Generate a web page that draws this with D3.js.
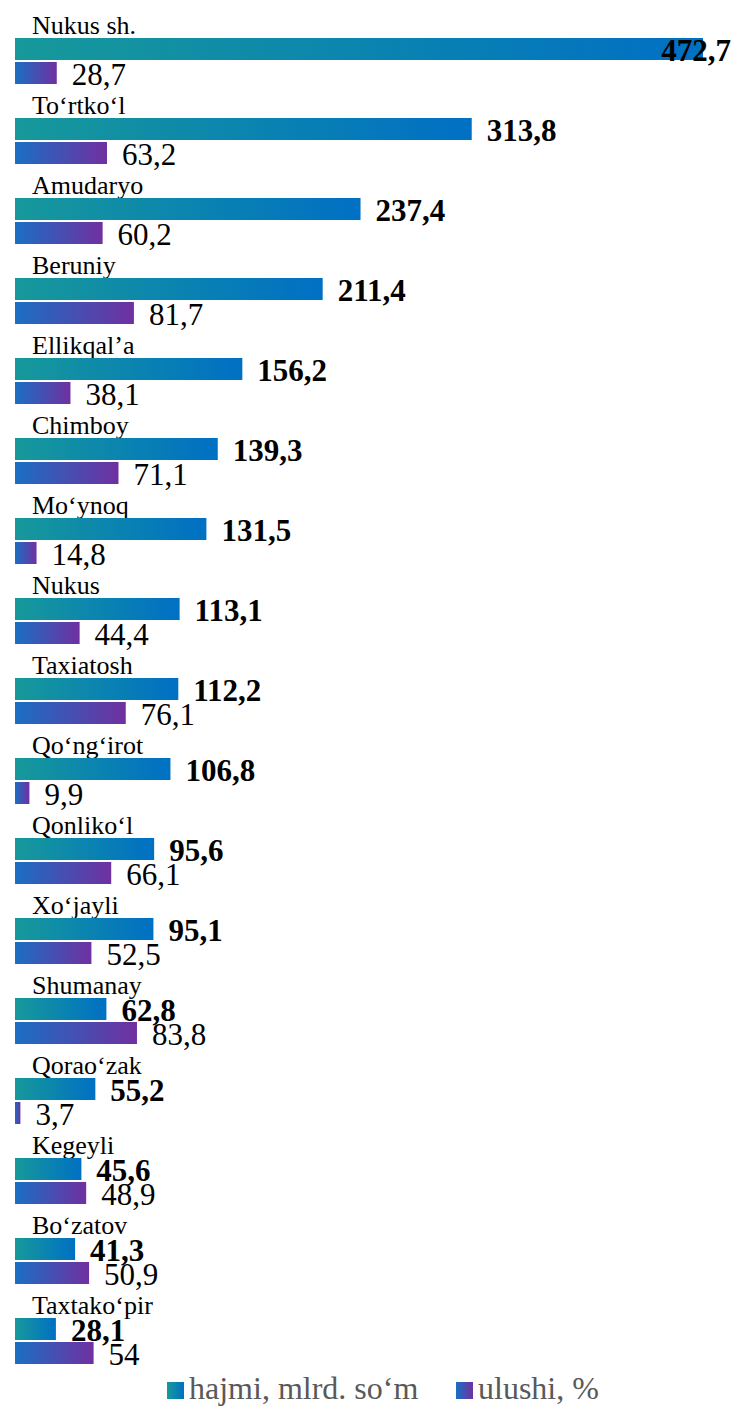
<!DOCTYPE html>
<html><head><meta charset="utf-8">
<script src="https://cdn.jsdelivr.net/npm/d3@7/dist/d3.min.js"></script>
<style>body{margin:0;background:#fff}svg{display:block}</style>
</head><body>
<script>
const categories = ["Nukus sh.","To‘rtko‘l","Amudaryo","Beruniy","Ellikqal’a","Chimboy","Mo‘ynoq","Nukus","Taxiatosh","Qo‘ng‘irot","Qonliko‘l","Xo‘jayli","Shumanay","Qorao‘zak","Kegeyli","Bo‘zatov","Taxtako‘pir"];
const hajmi = [472.7,313.8,237.4,211.4,156.2,139.3,131.5,113.1,112.2,106.8,95.6,95.1,62.8,55.2,45.6,41.3,28.1];
const ulushi = [28.7,63.2,60.2,81.7,38.1,71.1,14.8,44.4,76.1,9.9,66.1,52.5,83.8,3.7,48.9,50.9,54];
const seriesNames = ["hajmi, mlrd. so‘m","ulushi, %"];

const W = 733, H = 1407;
const fmt = v => String(v).replace(".", ",");
const svg = d3.select("body").append("svg").attr("width", W).attr("height", H);
const defs = svg.append("defs");
function grad(id, c1, c2){
  const g = defs.append("linearGradient").attr("id", id).attr("x1","0").attr("x2","1").attr("y1","0").attr("y2","0");
  g.append("stop").attr("offset","0%").attr("stop-color", c1);
  g.append("stop").attr("offset","100%").attr("stop-color", c2);
}
grad("g1", "#17999a", "#0070c4");
grad("g2", "#1a6fc4", "#7030a0");

const x = d3.scaleLinear().domain([0, 472.7]).range([15, 703]);
const y = d3.scaleBand().domain(categories).range([10, 10 + 80*categories.length]).paddingInner(0);
const barH = 22;
const font = "'Liberation Serif','Times New Roman',serif";

const g = svg.append("g");
const rows = g.selectAll("g.row").data(categories).join("g").attr("class","row")
  .attr("transform", d => `translate(0,${y(d)})`);

rows.append("text").attr("x", 32).attr("y", 24).attr("font-family", font).attr("font-size", 26)
  .attr("fill", "#000").text(d => d);

rows.append("rect").attr("x", x(0)).attr("y", 28).attr("height", barH)
  .attr("width", (d,i) => x(hajmi[i]) - x(0)).attr("fill", "url(#g1)");
rows.append("rect").attr("x", x(0)).attr("y", 52).attr("height", barH)
  .attr("width", (d,i) => x(ulushi[i]) - x(0)).attr("fill", "url(#g2)");

rows.append("text").attr("class","v1").attr("y", 51).attr("font-family", font).attr("font-size", 31)
  .attr("font-weight", "bold").attr("fill", "#000").text((d,i) => fmt(hajmi[i]))
  .each(function(d,i){
    const w = this.getComputedTextLength();
    d3.select(this).attr("x", Math.min(x(hajmi[i]) + 15, W - 2 - w));
  });
rows.append("text").attr("y", 75).attr("font-family", font).attr("font-size", 31)
  .attr("fill", "#000").attr("x", (d,i) => x(ulushi[i]) + 15).text((d,i) => fmt(ulushi[i]));

// legend
const leg = svg.append("g").attr("font-family", font).attr("font-size", 32).attr("fill", "#595959");
const legX = [167, 456];
seriesNames.forEach((s, i) => {
  leg.append("rect").attr("x", legX[i]).attr("y", 1382).attr("width", 17).attr("height", 17)
    .attr("fill", i === 0 ? "url(#g1)" : "url(#g2)");
  leg.append("text").attr("x", legX[i] + 22).attr("y", 1399).text(s);
});
</script>
</body></html>
